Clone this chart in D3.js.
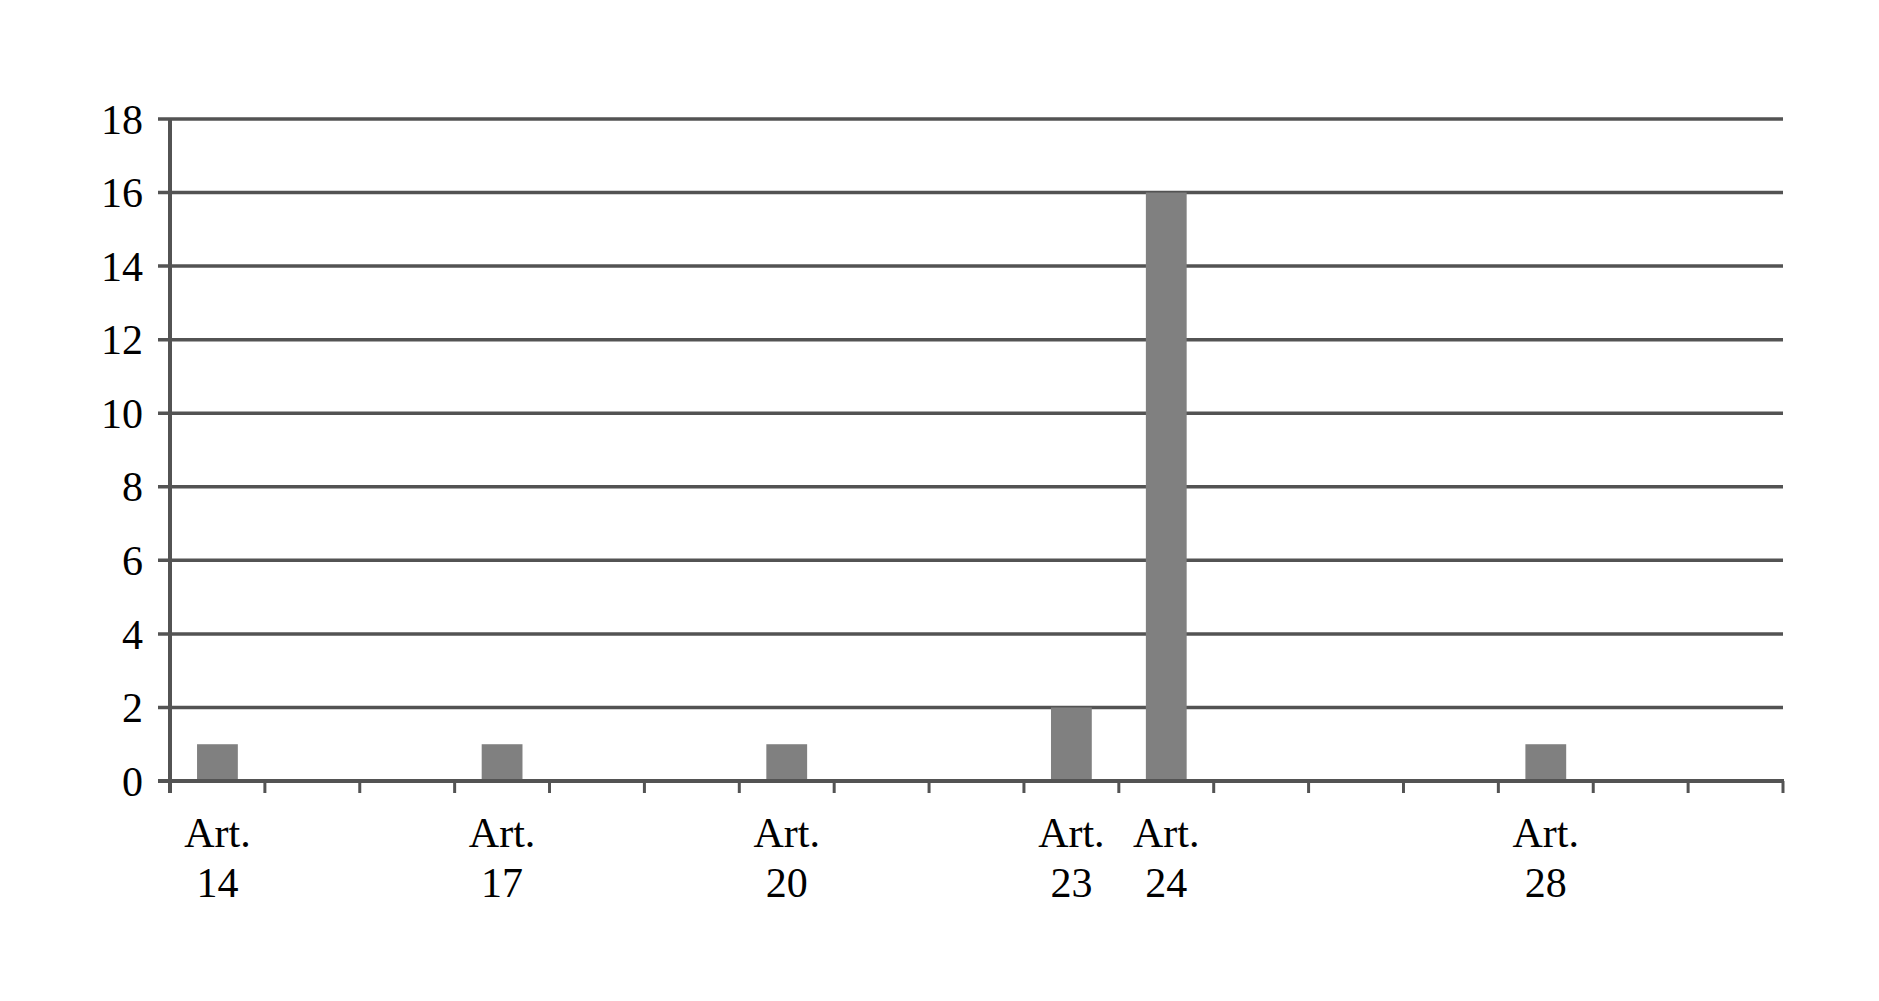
<!DOCTYPE html>
<html>
<head>
<meta charset="utf-8">
<script src="https://cdn.jsdelivr.net/npm/d3@7"></script>
<style>
  body { margin: 0; background: #fff; }
  text { font-family: "Liberation Serif", "Times New Roman", serif; fill: #000; }
</style>
</head>
<body>
<div id="chart"></div>
<script>
// Articles 14..30, one band each
const categories = ["Art. 14", "Art. 15", "Art. 16", "Art. 17", "Art. 18", "Art. 19", "Art. 20",
  "Art. 21", "Art. 22", "Art. 23", "Art. 24", "Art. 25", "Art. 26", "Art. 27", "Art. 28",
  "Art. 29", "Art. 30"];
const values = [1, 0, 0, 1, 0, 0, 1, 0, 0, 2, 16, 0, 0, 0, 1, 0, 0];
// only these categories carry a label under the axis
const shownLabels = ["Art. 14", "Art. 17", "Art. 20", "Art. 23", "Art. 24", "Art. 28"];
const yTicks = [0, 2, 4, 6, 8, 10, 12, 14, 16, 18];

const width = 1879;
const height = 1001;
const plotLeft = 170, plotRight = 1783, plotTop = 119, plotBottom = 781;
const gridColor = "#535353";
const fontSize = 42;

const svg = d3.select("#chart").append("svg")
  .attr("width", width)
  .attr("height", height);

const x = d3.scaleBand()
  .domain(categories)
  .range([plotLeft, plotRight])
  .paddingInner(0)
  .paddingOuter(0);

const y = d3.scaleLinear()
  .domain([0, 18])
  .range([plotBottom, plotTop]);

// horizontal gridlines + left ticks
svg.append("g")
  .selectAll("line")
  .data(yTicks)
  .enter().append("line")
  .attr("x1", plotLeft - 12)
  .attr("x2", plotRight)
  .attr("y1", d => y(d))
  .attr("y2", d => y(d))
  .attr("stroke", gridColor)
  .attr("stroke-width", 3.5);

// y labels
svg.append("g")
  .selectAll("text")
  .data(yTicks)
  .enter().append("text")
  .attr("x", plotLeft - 27)
  .attr("y", d => y(d))
  .attr("dy", "0.35em")
  .attr("text-anchor", "end")
  .attr("font-size", fontSize)
  .text(d => d);

// bars
const barW = x.bandwidth() * 0.43;
svg.append("g")
  .selectAll("rect")
  .data(values)
  .enter().append("rect")
  .attr("x", (d, i) => x(categories[i]) + (x.bandwidth() - barW) / 2)
  .attr("y", d => y(d))
  .attr("width", barW)
  .attr("height", d => y(0) - y(d))
  .attr("fill", "#808080");

// y axis line
svg.append("line")
  .attr("x1", plotLeft).attr("x2", plotLeft)
  .attr("y1", y(18) - 1).attr("y2", y(0) + 12)
  .attr("stroke", gridColor)
  .attr("stroke-width", 4);

// x axis baseline
svg.append("line")
  .attr("x1", plotLeft - 12).attr("x2", plotRight + 1)
  .attr("y1", y(0)).attr("y2", y(0))
  .attr("stroke", gridColor)
  .attr("stroke-width", 4);

// category boundary ticks
const boundaries = categories.map(c => x(c)).concat([plotRight]);
svg.append("g")
  .selectAll("line")
  .data(boundaries)
  .enter().append("line")
  .attr("x1", d => d).attr("x2", d => d)
  .attr("y1", y(0)).attr("y2", y(0) + 12)
  .attr("stroke", gridColor)
  .attr("stroke-width", 3);

// category labels on two lines
const lab = svg.append("g")
  .selectAll("text")
  .data(shownLabels)
  .enter().append("text")
  .attr("text-anchor", "middle")
  .attr("font-size", fontSize);

lab.append("tspan")
  .attr("x", d => x(d) + x.bandwidth() / 2)
  .attr("y", 847)
  .text(d => d.split(" ")[0]);

lab.append("tspan")
  .attr("x", d => x(d) + x.bandwidth() / 2)
  .attr("y", 897)
  .text(d => d.split(" ")[1]);
</script>
</body>
</html>
